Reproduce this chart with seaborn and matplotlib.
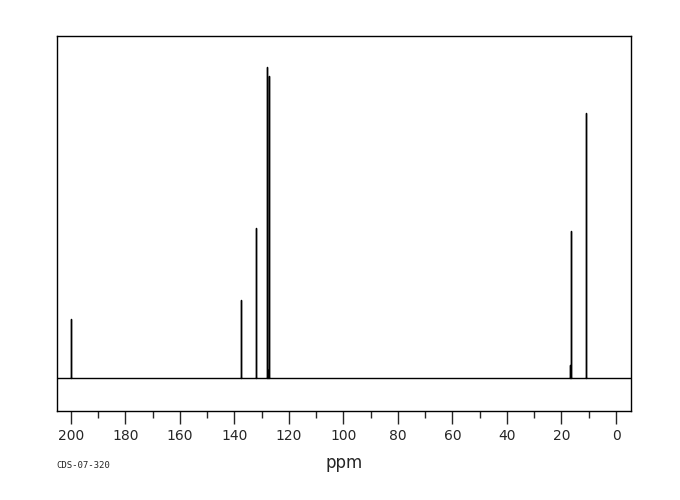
import pandas as pd
import matplotlib.pyplot as plt
import seaborn as sns

# Peak positions (ppm) and intensities (arbitrary units)
peak_ppm = [200.0, 137.5, 132.1, 128.0, 127.6, 127.2, 16.7, 16.4, 11.0]
peak_height = [59, 78, 150, 311, 8, 302, 13, 147, 265]
x_ticks = [200, 180, 160, 140, 120, 100, 80, 60, 40, 20, 0]

# Build a stick spectrum: baseline -> peak -> baseline for each line
xs = [206]
ys = [0]
for p, h in zip(peak_ppm, peak_height):
    xs += [p, p, p]
    ys += [0, h, 0]
xs.append(-6)
ys.append(0)
spec = pd.DataFrame({"ppm": xs, "intensity": ys})

sns.set_style("white")
fig = plt.figure(figsize=(6.8, 5.0), dpi=100)
ax = fig.add_axes([57 / 680, 89 / 500, 574 / 680, 375 / 500])

sns.lineplot(data=spec, x="ppm", y="intensity", sort=False, estimator=None,
             color="black", linewidth=1.0, ax=ax)

ax.set_xlim(205.1, -5.5)
ax.set_ylim(-33, 342)
ax.set_xticks(x_ticks)
ax.set_xticks(range(0, 205, 10), minor=True)
ax.set_yticks([])
ax.set_ylabel("")
ax.set_xlabel("ppm", fontsize=12, labelpad=8)
ax.tick_params(axis="x", which="major", direction="out", length=9, width=1,
               bottom=True, labelsize=10, pad=4)
ax.tick_params(axis="x", which="minor", direction="out", length=5, width=1,
               bottom=True)
for s in ax.spines.values():
    s.set_color("black")
    s.set_linewidth(1)

fig.text(56 / 680, 1 - 466 / 500, "CDS-07-320", fontsize=6.5,
         family="DejaVu Sans Mono", va="center", ha="left")

fig.savefig("out.png", dpi=100)
